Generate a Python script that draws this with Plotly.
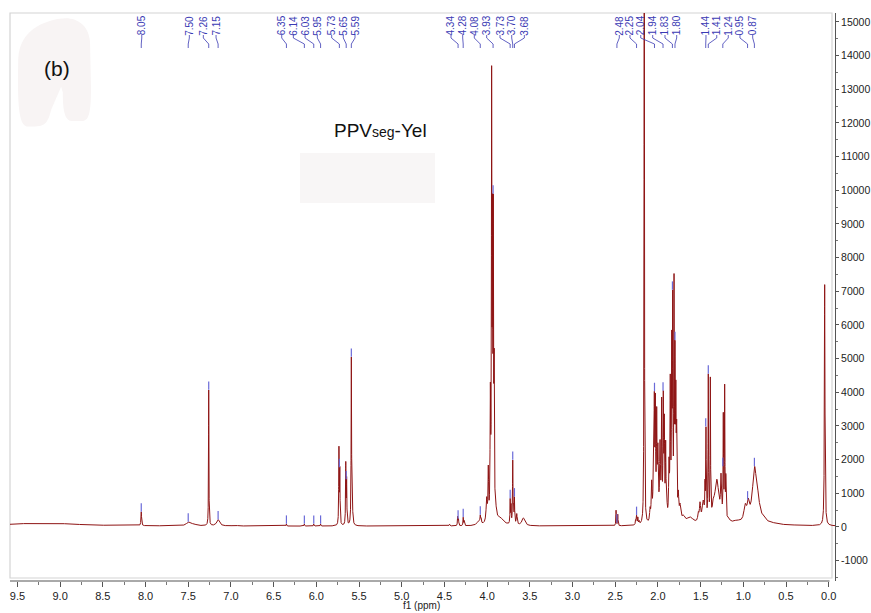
import numpy as np
import plotly.graph_objects as go

# ---------------- data ----------------
# resonances: position (ppm), apex intensity, half width at half max (ppm)
peak_ppm = [9.20, 8.05, 7.50, 7.44, 7.26, 7.15, 6.95,
            6.35, 6.14, 6.03, 5.95, 5.735, 5.725, 5.655, 5.645, 5.59, 5.58, 5.66,
            4.44, 4.345, 4.335, 4.28, 4.27, 4.10, 4.08, 4.07,
            4.005, 3.986, 3.962, 3.947, 3.937, 3.927, 3.917, 3.90, 3.85,
            3.73, 3.72, 3.70, 3.69, 3.68, 3.653, 3.576,
            2.49, 2.47, 2.26, 2.25, 2.235, 2.22, 2.16,
            2.092, 2.073, 2.053, 2.042, 2.030, 2.014, 2.000, 1.975, 1.956, 1.937, 1.925, 1.909,
            1.897, 1.870, 1.855, 1.838, 1.827, 1.811, 1.800, 1.790, 1.780, 1.761, 1.741, 1.702, 1.624,
            1.527, 1.507, 1.470, 1.448, 1.437, 1.410, 1.386, 1.350, 1.310, 1.261, 1.234, 1.218, 1.205,
            1.176, 1.077, 0.978, 0.942, 0.868, 0.826, 0.766,
            0.687, 0.609, 0.40, 0.047]
peak_height = [120, 450, 150, 100, 4070, 220, 60,
               90, 90, 90, 90, 2400, 1800, 1950, 1500, 5050, 1500, 150,
               80, 320, 250, 290, 200, 200, 360, 280,
               900, 1840, 4300, 13700, 9900, 9900, 5300, 800, 300,
               850, 700, 1990, 700, 900, 400, 270,
               500, 380, 250, 350, 300, 200, 22000,
               600, 1400, 2080, 4030, 3980, 3580, 2500, 2600, 3860, 4050, 3360, 2580,
               1000, 2080, 4550, 5850, 7040, 7530, 5550, 4370, 3190, 1100, 710, 360, 300,
               455, 750, 800, 1490, 2980, 4550, 4460, 900, 1420, 1600, 3410, 4250, 1600,
               300, 210, 700, 860, 1800, 1050, 360,
               160, 110, 60, 7200]
peak_hwhm = [0.45, 0.004, 0.025, 0.04, 0.0025, 0.02, 0.02,
             0.003, 0.003, 0.003, 0.003, 0.003, 0.003, 0.003, 0.003, 0.003, 0.004, 0.05,
             0.005, 0.003, 0.003, 0.003, 0.003, 0.02, 0.004, 0.004,
             0.008, 0.004, 0.004, 0.003, 0.003, 0.003, 0.003, 0.01, 0.05,
             0.003, 0.003, 0.003, 0.003, 0.003, 0.006, 0.02,
             0.003, 0.003, 0.004, 0.004, 0.004, 0.004, 0.0025,
             0.006, 0.006, 0.005, 0.004, 0.004, 0.004, 0.006, 0.006, 0.004, 0.004, 0.004, 0.004,
             0.006, 0.005, 0.004, 0.004, 0.003, 0.003, 0.003, 0.004, 0.004, 0.006, 0.01, 0.02, 0.05,
             0.008, 0.008, 0.015, 0.003, 0.003, 0.003, 0.003, 0.012, 0.03, 0.006, 0.003, 0.003, 0.003,
             0.02, 0.05, 0.018, 0.015, 0.03, 0.02, 0.03,
             0.06, 0.08, 0.2, 0.004]
baseline_level = 25

# picked-peak labels (text), where each text sits (ppm); the peak it points to is its value
label_text = ["8.05", "7.50", "7.26", "7.15", "6.35", "6.14", "6.03", "5.95", "5.73", "5.65", "5.59",
              "4.34", "4.28", "4.08", "3.93", "3.73", "3.70", "3.68",
              "2.48", "2.25", "2.04", "1.94", "1.83", "1.80", "1.44", "1.41", "1.24", "0.95", "0.87"]
label_pos = [8.044, 7.487, 7.323, 7.174, 6.405, 6.269, 6.132, 5.988, 5.820, 5.684, 5.547,
             4.423, 4.286, 4.150, 4.005, 3.849, 3.712, 3.564,
             2.452, 2.327, 2.201, 2.061, 1.917, 1.780, 1.437, 1.311, 1.176, 1.039, 0.890]
label_peak = [float(t) for t in label_text]

x_ticks = [9.5, 9.0, 8.5, 8.0, 7.5, 7.0, 6.5, 6.0, 5.5, 5.0, 4.5, 4.0, 3.5, 3.0, 2.5, 2.0, 1.5, 1.0, 0.5, 0.0]
y_ticks = list(range(-1000, 15001, 1000))

# ---------------- build spectrum (Lorentzian lines whose sum meets the read apex values) -------
P = np.array(peak_ppm)
H = np.array(peak_height, dtype=float) - baseline_level
W = np.array(peak_hwhm)


def lor(xv, p, w):
    return w * w / ((xv - p) ** 2 + w * w)


M = lor(P[:, None], P[None, :], W[None, :])
active = list(range(len(P)))
amp = np.zeros(len(P))
while True:
    sub = M[np.ix_(active, active)]
    a = np.linalg.solve(sub, H[active])
    if (a >= 0).all():
        amp[:] = 0
        amp[active] = a
        break
    active.pop(int(np.argmin(a)))

ppm = np.linspace(9.6, -0.08, 40000)
inten = np.full_like(ppm, float(baseline_level))
for p, a, w in zip(P, amp, W):
    inten += a * lor(ppm, p, w)

mark_y = []
for p in label_peak:
    sel = np.abs(ppm - p) < 0.003
    mark_y.append(float(inten[sel].max()) + 130)

XR = [9.587, -0.0738]
YR = [-1604, 15266]
BLUE = "#3a3ab4"

fig = go.Figure()
fig.add_trace(go.Scatter(x=ppm, y=inten, mode="lines",
                         line=dict(color="#8e1414", width=1), hoverinfo="skip"))
fig.add_trace(go.Scatter(x=label_peak, y=mark_y, mode="markers",
                         marker=dict(symbol="line-ns", size=6,
                                     line=dict(color="#6a6ad8", width=1.2)),
                         hoverinfo="skip"))

shapes = []
# faint erased patches
shapes.append(dict(type="path", xref="paper", yref="paper", layer="below",
                   path="M 0.010,0.92 C 0.012,0.97 0.04,0.985 0.06,0.99 C 0.08,0.995 0.095,0.98 0.097,0.95 "
                        "L 0.098,0.88 C 0.099,0.82 0.095,0.81 0.087,0.81 L 0.075,0.81 "
                        "C 0.066,0.81 0.064,0.83 0.064,0.86 L 0.062,0.87 L 0.050,0.83 "
                        "C 0.045,0.80 0.040,0.80 0.022,0.80 C 0.010,0.80 0.009,0.84 0.010,0.92 Z",
                   fillcolor="#f8f4f4", line=dict(width=0)))
shapes.append(dict(type="rect", xref="paper", yref="paper", layer="below",
                   x0=(300 - 10) / 825, x1=(435 - 10) / 825,
                   y0=(581 - 203) / 568, y1=(581 - 153) / 568,
                   fillcolor="#f8f6f6", line=dict(width=0)))
# frame
shapes.append(dict(type="rect", xref="paper", yref="paper", layer="below",
                   x0=0, x1=(832 - 10) / 825, y0=(581 - 578) / 568, y1=1,
                   line=dict(color="#d4d4d4", width=1.2)))
# x axis line
shapes.append(dict(type="line", xref="paper", yref="paper",
                   x0=0, x1=(829.5 - 10) / 825, y0=0, y1=0,
                   line=dict(color="#555555", width=1)))
# label leaders
y_a, y_b, y_c, y_d = (581 - 35) / 568, (581 - 38) / 568, (581 - 44) / 568, (581 - 48) / 568
for t, lp, pk in zip(label_text, label_pos, label_peak):
    shapes.append(dict(type="path", xref="x", yref="paper",
                       path=f"M {lp},{y_a} L {lp},{y_b} L {pk},{y_c} L {pk},{y_d}",
                       line=dict(color=BLUE, width=0.8)))

annotations = []
for t, lp in zip(label_text, label_pos):
    annotations.append(dict(x=lp, xref="x", y=(581 - 25.5) / 568, yref="paper",
                            text=t, textangle=-90, showarrow=False,
                            xanchor="center", yanchor="middle",
                            font=dict(family="Liberation Sans, Arial", size=10, color=BLUE)))
annotations.append(dict(x=(57 - 10) / 825, y=(581 - 68) / 568, xref="paper", yref="paper",
                        text="(b)", showarrow=False, xanchor="center", yanchor="middle",
                        font=dict(family="Liberation Sans, Arial", size=21, color="#111111")))
annotations.append(dict(x=(380 - 10) / 825, y=(581 - 131) / 568, xref="paper", yref="paper",
                        text="PPV<span style='font-size:14px'>seg</span>-Yel", showarrow=False,
                        xanchor="center", yanchor="middle",
                        font=dict(family="Liberation Sans, Arial", size=19, color="#111111")))
annotations.append(dict(x=(421 - 10) / 825, y=(581 - 605) / 568, xref="paper", yref="paper",
                        text="f1 (ppm)", showarrow=False, xanchor="center", yanchor="middle",
                        font=dict(family="Liberation Sans Narrow, Liberation Sans, Arial", size=10,
                                  color="#222222")))

fig.update_layout(
    width=871, height=613,
    margin=dict(l=10, r=36, t=13, b=32),
    paper_bgcolor="white", plot_bgcolor="white",
    showlegend=False,
    shapes=shapes, annotations=annotations,
    xaxis=dict(range=XR, tickvals=x_ticks, ticktext=[f"{v:.1f}" for v in x_ticks],
               automargin=False,
               showgrid=False, zeroline=False, showline=False,
               ticks="outside", ticklen=5, tickcolor="#555555",
               minor=dict(tickvals=[v - 0.25 for v in x_ticks[:-1]], ticks="outside",
                          ticklen=3, tickcolor="#777777"),
               tickfont=dict(family="Liberation Sans Narrow, Liberation Sans, Arial", size=11,
                             color="#222222")),
    yaxis=dict(range=YR, side="right", tickvals=y_ticks, ticktext=[str(v) for v in y_ticks],
               automargin=False,
               showgrid=False, zeroline=False, showline=True, linecolor="#555555",
               ticks="outside", ticklen=3, tickcolor="#555555",
               minor=dict(dtick=500, ticks="outside", ticklen=2, tickcolor="#777777"),
               tickfont=dict(family="Liberation Sans, Arial", size=10.5, color="#222222")),
)

fig.write_html("out.html")
